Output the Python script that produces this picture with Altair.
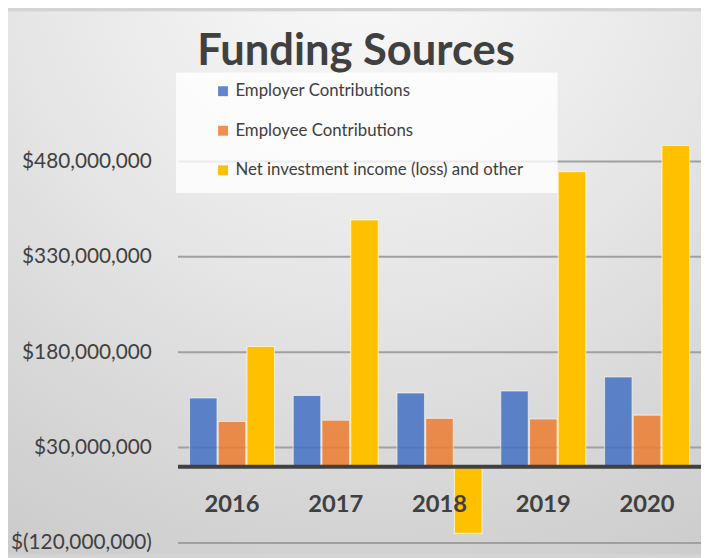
import altair as alt
import pandas as pd

years = ["2016", "2017", "2018", "2019", "2020"]
series = ["Employer Contributions", "Employee Contributions",
          "Net investment income (loss) and other"]
employer = [108e6, 112e6, 116e6, 119e6, 141e6]
employee = [71e6, 73e6, 76e6, 75e6, 81e6]
net_inv = [189e6, 388e6, -105e6, 464e6, 505e6]
tick_values = [-120e6, 30e6, 180e6, 330e6, 480e6]
colors = ["#4472C4", "#ED7D31", "#FFC000"]
opac = [0.85, 0.85, 1.0]
title_text = ["Funding Sources"]

rows = []
for vals, s in zip([employer, employee, net_inv], series):
    for y, v in zip(years, vals):
        rows.append({"Year": y, "Series": s, "Value": v})
df = pd.DataFrame(rows)

W, H = 529, 482.5
PL, PT, PR, PB = 172, 55.5, 0, 12
FONT = "Lato"
TXT = "#404040"

yscale = alt.Scale(domain=[-120e6, 630e6], nice=False, zero=False)
yaxis = alt.Axis(values=tick_values, title=None, grid=False, domain=False,
                 ticks=False, labelFont=FONT, labelFontSize=21,
                 labelColor=TXT, labelPadding=27, zindex=1,
                 labelExpr="datum.value < 0 ? '$(' + format(-datum.value, ',') + ')' : '$' + format(datum.value, ',')")

bg = alt.Chart(pd.DataFrame({"a": [0]})).mark_rect(
    fill=alt.Gradient(
        gradient="radial",
        stops=[alt.GradientStop(color="#fbfbfb", offset=0),
               alt.GradientStop(color="#e6e6e6", offset=0.45),
               alt.GradientStop(color="#dadada", offset=0.65),
               alt.GradientStop(color="#c6c6c6", offset=1)],
        x1=0.52, y1=0.0, r1=0, x2=0.52, y2=0.0, r2=1.13)
).encode(x=alt.value(-PL), x2=alt.value(W + PR), y=alt.value(-PT), y2=alt.value(H + PB))

grid = alt.Chart(pd.DataFrame({"Value": tick_values})).mark_rule(
    color="#a0a0a0", strokeWidth=2
).encode(y=alt.Y("Value:Q", scale=yscale, axis=yaxis))

legend_box = alt.Chart(pd.DataFrame({"a": [0]})).mark_rect(
    fill="white", opacity=0.8
).encode(x=alt.value(-2), x2=alt.value(384), y=alt.value(6.5), y2=alt.value(128.5))

bars = alt.Chart(df).mark_bar(stroke="white", strokeWidth=1.2, strokeOpacity=0.6).encode(
    x=alt.X("Year:N", sort=years,
            scale=alt.Scale(paddingInner=0.18, paddingOuter=0.11),
            axis=alt.Axis(title=None, orient="bottom", offset=-77.2, domain=False,
                          ticks=False, labelFont=FONT, labelFontWeight="bold",
                          labelFontSize=24, labelColor=TXT, labelPadding=38,
                          labelBaseline="middle", labelAngle=0, zindex=1)),
    xOffset=alt.XOffset("Series:N", sort=series, scale=alt.Scale(paddingInner=0.04)),
    y=alt.Y("Value:Q", scale=yscale),
    color=alt.Color("Series:N", sort=series,
                    scale=alt.Scale(domain=series, range=colors),
                    legend=alt.Legend(orient="none", legendX=37, legendY=17, title=None,
                                      symbolType="square", symbolSize=100,
                                      symbolStrokeWidth=0, labelFont=FONT,
                                      labelFontSize=17, labelColor=TXT, rowPadding=22,
                                      labelOffset=4, padding=0, labelLimit=400)),
    opacity=alt.Opacity("Series:N",
                        scale=alt.Scale(type="ordinal", domain=series, range=opac),
                        legend=None),
)

zero = alt.Chart(pd.DataFrame({"Value": [0]})).mark_rule(
    color="#404040", strokeWidth=4
).encode(y=alt.Y("Value:Q", scale=yscale))

title = alt.Chart(pd.DataFrame({"t": title_text})).mark_text(
    font=FONT, fontSize=44, fontWeight="bold", color=TXT, align="center",
    baseline="alphabetic"
).encode(text="t:N", x=alt.value(180), y=alt.value(-1))

chart = alt.layer(bg, grid, legend_box, bars, zero, title).properties(
    width=W, height=H,
    padding={"left": PL, "top": PT, "right": PR, "bottom": PB},
    autosize=alt.AutoSizeParams(type="none"),
).configure_view(stroke=None).configure(background="#d4d4d4")

chart.save("out.html", embed_options={"renderer": "svg", "actions": False})
